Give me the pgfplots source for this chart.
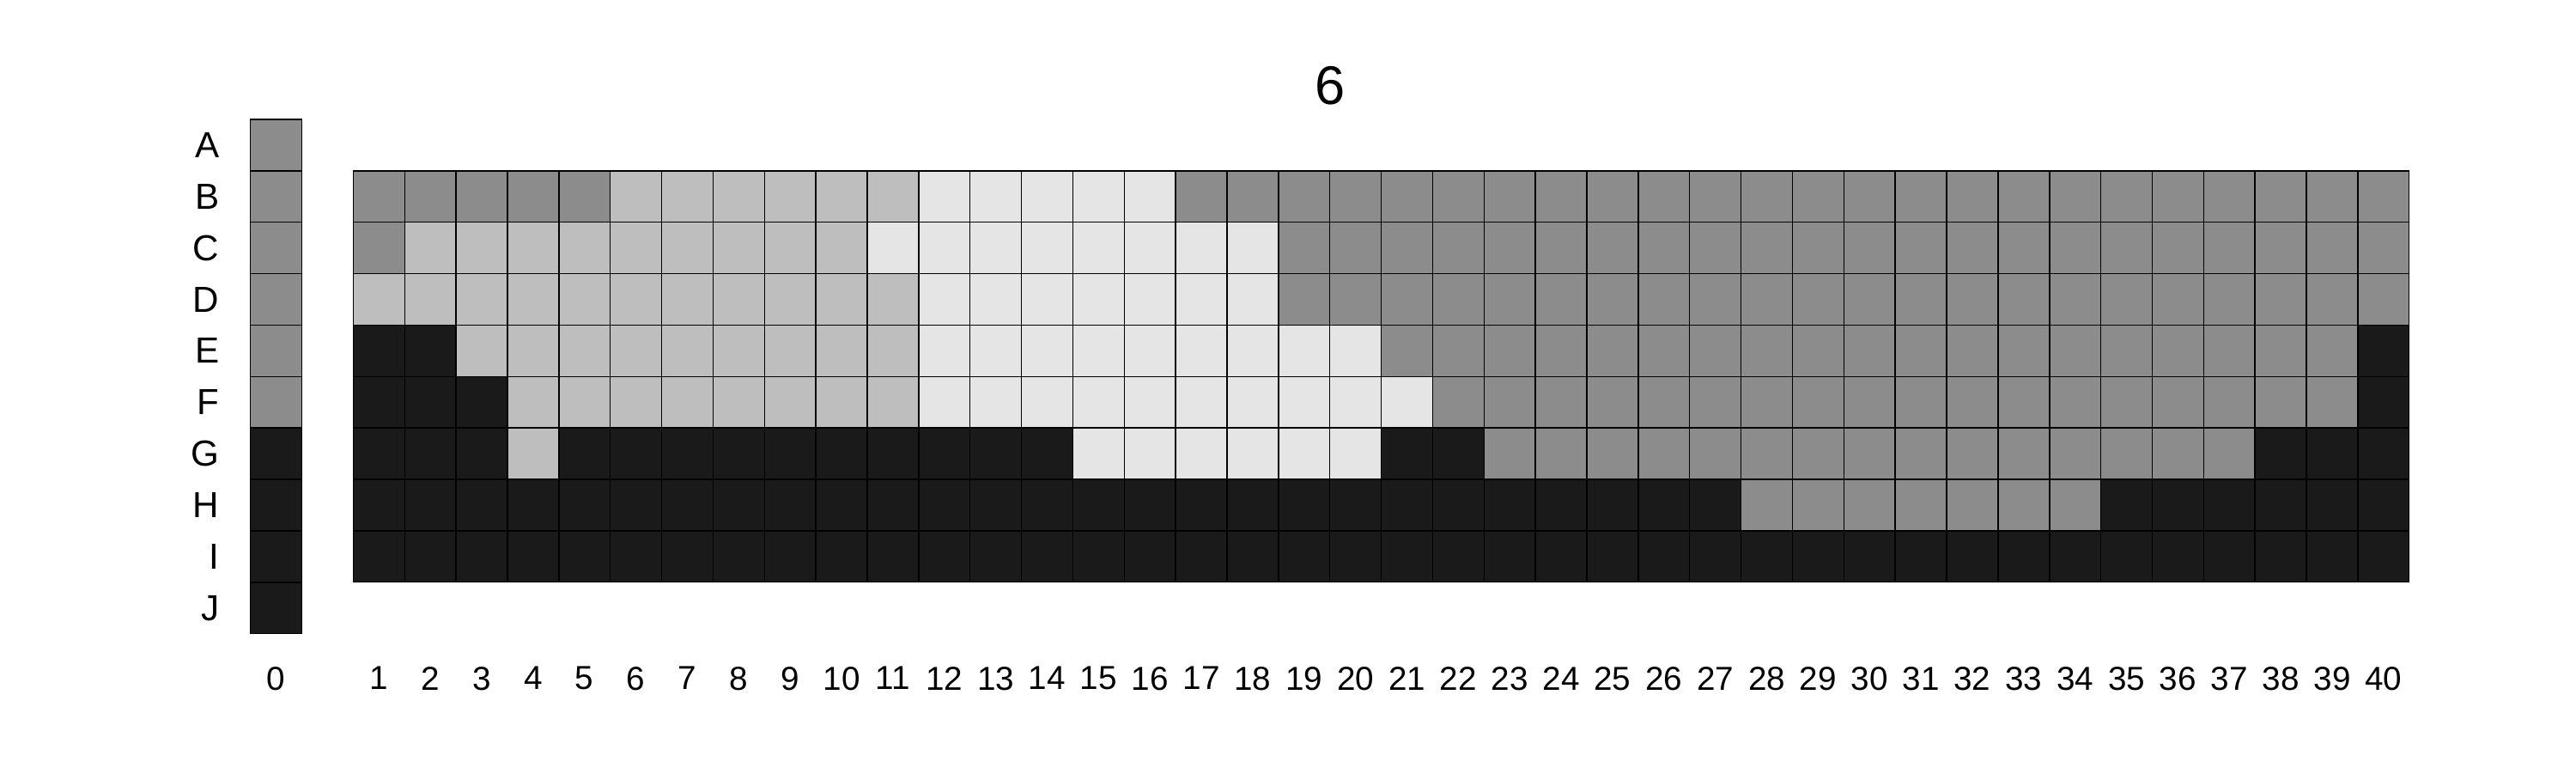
\documentclass[border=0pt]{standalone}
\usepackage{fontspec}
\setmainfont{Liberation Sans}
\usepackage{pgfplots}
\usepackage{pgfplotstable}
\pgfplotsset{compat=1.18}

% grid value per cell: 0 = dark, 1 = mid grey, 2 = light grey, 3 = very light grey
\pgfplotstableread{
c B C D E F G H I
1 1 1 2 0 0 0 0 0
2 1 2 2 0 0 0 0 0
3 1 2 2 2 0 0 0 0
4 1 2 2 2 2 2 0 0
5 1 2 2 2 2 0 0 0
6 2 2 2 2 2 0 0 0
7 2 2 2 2 2 0 0 0
8 2 2 2 2 2 0 0 0
9 2 2 2 2 2 0 0 0
10 2 2 2 2 2 0 0 0
11 2 3 2 2 2 0 0 0
12 3 3 3 3 3 0 0 0
13 3 3 3 3 3 0 0 0
14 3 3 3 3 3 0 0 0
15 3 3 3 3 3 3 0 0
16 3 3 3 3 3 3 0 0
17 1 3 3 3 3 3 0 0
18 1 3 3 3 3 3 0 0
19 1 1 1 3 3 3 0 0
20 1 1 1 3 3 3 0 0
21 1 1 1 1 3 0 0 0
22 1 1 1 1 1 0 0 0
23 1 1 1 1 1 1 0 0
24 1 1 1 1 1 1 0 0
25 1 1 1 1 1 1 0 0
26 1 1 1 1 1 1 0 0
27 1 1 1 1 1 1 0 0
28 1 1 1 1 1 1 1 0
29 1 1 1 1 1 1 1 0
30 1 1 1 1 1 1 1 0
31 1 1 1 1 1 1 1 0
32 1 1 1 1 1 1 1 0
33 1 1 1 1 1 1 1 0
34 1 1 1 1 1 1 1 0
35 1 1 1 1 1 1 0 0
36 1 1 1 1 1 1 0 0
37 1 1 1 1 1 1 0 0
38 1 1 1 1 1 0 0 0
39 1 1 1 1 1 0 0 0
40 1 1 1 0 0 0 0 0
}\maingrid

\pgfplotstableread{
r v
0 1
1 1
2 1
3 1
4 1
5 1
6 0
7 0
8 0
9 0
}\colzero

\begin{document}
\begin{tikzpicture}
\path[use as bounding box] (0,0) rectangle (300mm,90mm);
\begin{axis}[
  at={(154.87mm,46.17mm)}, anchor=center,
  x=5.986mm, y=5.987mm,
  xmin=-0.5, xmax=41.5, ymin=-0.5, ymax=9.5,
  y dir=reverse,
  clip=false,
  axis line style={draw=none},
  major tick length=0pt,
  xtick={0,2,3,4,5,6,7,8,9,10,11,12,13,14,15,16,17,18,19,20,21,22,23,24,25,26,27,28,29,30,31,32,33,34,35,36,37,38,39,40,41},
  xticklabels={0,1,2,3,4,5,6,7,8,9,10,11,12,13,14,15,16,17,18,19,20,21,22,23,24,25,26,27,28,29,30,31,32,33,34,35,36,37,38,39,40},
  ytick={0,1,2,3,4,5,6,7,8,9},
  yticklabels={A,B,C,D,E,F,G,H,I,J},
  xticklabel style={font=\fontsize{11}{13}\selectfont},
  yticklabel style={font=\fontsize{12}{14}\selectfont},
  xticklabel shift=2.6mm,
  yticklabel shift=2.4mm,
  title={6},
  title style={font=\fontsize{18}{20}\selectfont, at={(0.5,1)}, anchor=base, yshift=-0.4mm},
  colormap={munsell}{rgb255=(26,26,26) rgb255=(140,140,140) rgb255=(190,190,190) rgb255=(229,229,229)},
  point meta min=0, point meta max=3,
]
\pgfplotsset{cells/.style={scatter, only marks, mark=square*, mark size=2.99mm,
  mark options={line width=0.4pt},
  scatter/use mapped color={draw=black, fill=mapped color}, point meta=explicit}}
\addplot[cells] table[x expr=0, y=r, meta=v] {\colzero};
\addplot[cells] table[x expr=\thisrow{c}+1, y expr=1, meta=B] {\maingrid};
\addplot[cells] table[x expr=\thisrow{c}+1, y expr=2, meta=C] {\maingrid};
\addplot[cells] table[x expr=\thisrow{c}+1, y expr=3, meta=D] {\maingrid};
\addplot[cells] table[x expr=\thisrow{c}+1, y expr=4, meta=E] {\maingrid};
\addplot[cells] table[x expr=\thisrow{c}+1, y expr=5, meta=F] {\maingrid};
\addplot[cells] table[x expr=\thisrow{c}+1, y expr=6, meta=G] {\maingrid};
\addplot[cells] table[x expr=\thisrow{c}+1, y expr=7, meta=H] {\maingrid};
\addplot[cells] table[x expr=\thisrow{c}+1, y expr=8, meta=I] {\maingrid};
\end{axis}
\end{tikzpicture}
\end{document}
